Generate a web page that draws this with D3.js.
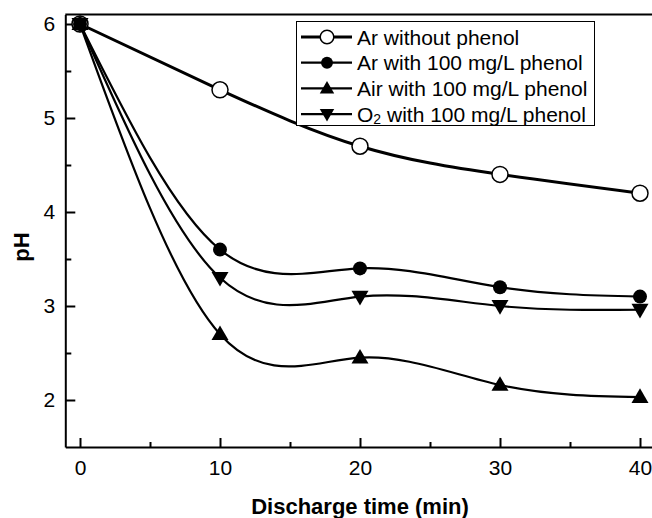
<!DOCTYPE html>
<html>
<head>
<meta charset="utf-8">
<script src="https://cdn.jsdelivr.net/npm/d3@7"></script>
<style>
  body { margin: 0; background: #fff; }
  svg { display: block; font-family: "Liberation Sans", Arial, sans-serif; }
</style>
</head>
<body>
<div class="chart"></div>
<script>
var svgWidth = 652;
var svgHeight = 518;

// data
var times = [0, 10, 20, 30, 40];
var arNoPhenol = [6.0, 5.3, 4.7, 4.4, 4.2];
var arPhenol = [6.0, 3.6, 3.4, 3.2, 3.1];
var airPhenol = [6.0, 2.7, 2.45, 2.16, 2.03];
var o2Phenol = [6.0, 3.3, 3.1, 3.0, 2.96];
var seriesNames = ["Ar without phenol", "Ar with 100 mg/L phenol", "Air with 100 mg/L phenol", "O2 with 100 mg/L phenol"];
var xTicks = [0, 10, 20, 30, 40];
var yTicks = [2, 3, 4, 5, 6];

var series = [
  { name: seriesNames[0], values: arNoPhenol, marker: "openCircle", width: 3 },
  { name: seriesNames[1], values: arPhenol, marker: "circle", width: 2.2 },
  { name: seriesNames[2], values: airPhenol, marker: "triUp", width: 2.2 },
  { name: seriesNames[3], values: o2Phenol, marker: "triDown", width: 2.2 }
];

var svg = d3.select(".chart")
  .append("svg")
  .attr("width", svgWidth)
  .attr("height", svgHeight);

// scales (14 px per minute, 94 px per pH unit)
var xScale = d3.scaleLinear()
  .domain([-1.05, 41])
  .range([65.3, 65.3 + 42.05 * 14]);

var yScale = d3.scaleLinear()
  .domain([1.5, 6.1])
  .range([447, 447 - 4.6 * 94]);

var plotBottom = yScale(1.5);
var plotLeft = xScale(-1.05);
var plotTop = yScale(6.1);

// frame top line
svg.append("line")
  .attr("x1", plotLeft).attr("x2", svgWidth + 10)
  .attr("y1", plotTop).attr("y2", plotTop)
  .attr("stroke", "#000").attr("stroke-width", 2);

// x axis
var xAxis = d3.axisBottom(xScale)
  .tickValues(xTicks)
  .tickSizeInner(-9)
  .tickSizeOuter(0)
  .tickPadding(13)
  .tickFormat(d3.format("d"));

svg.append("g")
  .attr("transform", `translate(0, ${plotBottom})`)
  .call(xAxis);

svg.append("g")
  .attr("transform", `translate(0, ${plotBottom})`)
  .call(d3.axisBottom(xScale).tickValues([5, 15, 25, 35]).tickSizeInner(-5).tickSizeOuter(0).tickFormat(""))
  .select(".domain").remove();

// y axis
var yAxis = d3.axisLeft(yScale)
  .tickValues(yTicks)
  .tickSizeInner(-10)
  .tickSizeOuter(0)
  .tickPadding(10)
  .tickFormat(d3.format("d"));

svg.append("g")
  .attr("transform", `translate(${plotLeft}, 0)`)
  .call(yAxis);

svg.append("g")
  .attr("transform", `translate(${plotLeft}, 0)`)
  .call(d3.axisLeft(yScale).tickValues([2.5, 3.5, 4.5, 5.5]).tickSizeInner(-6).tickSizeOuter(0).tickFormat(""))
  .select(".domain").remove();

svg.selectAll(".domain").attr("stroke-width", 2);
svg.selectAll(".tick line").attr("stroke-width", 2);
svg.selectAll(".tick text")
  .attr("font-size", 21)
  .attr("font-family", "Liberation Sans, Arial, sans-serif");

// axis titles
svg.append("text")
  .attr("x", 360)
  .attr("y", 514)
  .attr("text-anchor", "middle")
  .attr("font-size", 22)
  .attr("font-weight", "bold")
  .text("Discharge time (min)");

svg.append("text")
  .attr("transform", "translate(29, 247) rotate(-90)")
  .attr("text-anchor", "middle")
  .attr("font-size", 22)
  .attr("font-weight", "bold")
  .text("pH");

// markers
function drawMarker(g, type, x, y, big) {
  var k = big ? 1 : 0.85;
  if (type === "openCircle") {
    g.append("circle").attr("cx", x).attr("cy", y).attr("r", 8 * k)
      .attr("fill", "#fff").attr("stroke", "#000").attr("stroke-width", 1.5);
  } else if (type === "circle") {
    g.append("circle").attr("cx", x).attr("cy", y).attr("r", 7 * k)
      .attr("fill", "#000");
  } else {
    var sym = d3.symbol().type(d3.symbolTriangle).size(125 * k * k);
    g.append("path")
      .attr("d", sym())
      .attr("fill", "#000")
      .attr("transform", `translate(${x}, ${y + (type === "triUp" ? 1 : -1)}) rotate(${type === "triUp" ? 0 : 180})`);
  }
}

var line = d3.line()
  .x((d, i) => xScale(times[i]))
  .y(d => yScale(d))
  .curve(d3.curveNatural);

series.forEach(function(s) {
  var g = svg.append("g");
  g.append("path")
    .attr("d", line(s.values))
    .attr("fill", "none")
    .attr("stroke", "#000")
    .attr("stroke-width", s.width);
  s.values.forEach(function(v, i) {
    drawMarker(g, s.marker, xScale(times[i]), yScale(v), true);
  });
});

// legend
var legend = svg.append("g");
legend.append("rect")
  .attr("x", 296.5).attr("y", 21.5)
  .attr("width", 298).attr("height", 104)
  .attr("fill", "#fff")
  .attr("stroke", "#000").attr("stroke-width", 1);

series.forEach(function(s, i) {
  var cy = 37 + i * 25.7;
  legend.append("line")
    .attr("x1", 301).attr("x2", 352)
    .attr("y1", cy).attr("y2", cy)
    .attr("stroke", "#000").attr("stroke-width", s.width);
  drawMarker(legend, s.marker, 327, cy, false);
  var t = legend.append("text")
    .attr("x", 357).attr("y", cy + 7.5)
    .attr("font-size", 21);
  if (s.name.indexOf("O2") === 0) {
    t.append("tspan").text("O");
    t.append("tspan").attr("font-size", 14).attr("dy", 2).text("2");
    t.append("tspan").attr("dy", -2).text(s.name.slice(2));
  } else {
    t.text(s.name);
  }
});
</script>
</body>
</html>
